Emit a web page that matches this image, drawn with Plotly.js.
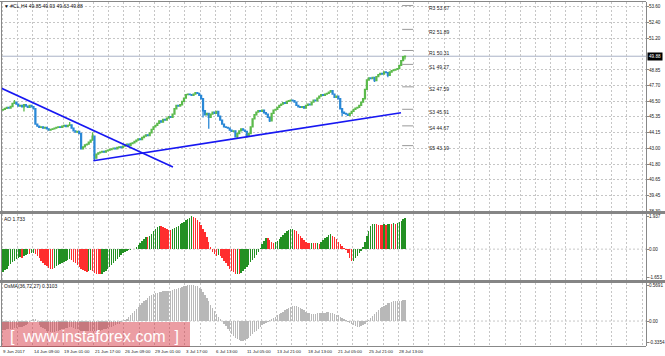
<!DOCTYPE html>
<html><head><meta charset="utf-8">
<script src="https://cdn.plot.ly/plotly-3.0.1.min.js"></script>
<style>html,body{margin:0;padding:0;background:#fff}#chart{width:665px;height:356px}</style>
</head><body><div id="chart"></div>
<script>
// ---- DATA ----
const closes = [
45.90,45.98,46.05,46.00,46.12, 46.35,46.45,46.30,
46.15,46.20,46.10,46.25,46.15,46.05,46.20,46.10,45.95,
44.80, 44.65,44.55,44.60,44.50,44.55,44.45, 44.35,44.40,
44.45,44.50,44.55,44.60,44.55,44.65,44.70,44.62,44.70,
44.75,44.50, 44.30,44.20,44.25,44.10, 42.95,
43.10,43.25,43.30,43.45,43.60, 43.90, 42.25,
42.55,42.65,42.70,42.75,42.70,42.80,42.85,42.90,
42.95,43.00,42.95,43.05,43.10,43.05,43.15,
43.25,43.30,43.20,43.35,43.40,43.50,
43.60,43.70,43.65,43.80,43.90, 44.00,43.95,44.15,44.40,44.60,
44.70,44.85,45.05,44.95,45.15,45.10, 45.25,45.35,45.30,45.55,
45.95,46.20,46.15,46.25, 46.50,46.75,47.00,
47.05,47.00,46.95,47.05,47.15,47.10, 46.95,46.70,
45.80,45.50,45.60, 45.30,45.55, 45.70,45.60,45.75,45.40,
45.10,44.80,44.60,44.55,44.50, 44.35,44.25,44.30, 43.85,44.10,44.30,
44.45,44.35,44.25, 43.95, 44.10,44.60,45.20, 45.50,45.70,45.80,45.75,
45.85,45.65,45.55, 45.30,45.05, 45.60,45.85,45.90, 46.05,46.20,46.30,46.40,
46.35,46.50,46.55,46.60,46.55, 46.45,46.20,46.10, 46.05,46.10,46.00,
46.20,46.30,46.25,46.45, 46.60,46.55,46.75,46.90, 47.00,46.95,47.05,47.10,
47.20,47.30, 47.05,46.80, 46.90,46.70, 45.95,45.70,45.60, 45.55,45.45,45.60,
45.75,45.90,46.00,46.05, 46.20,46.45,46.70, 47.40,48.10,48.25, 48.20,48.30,48.05,
48.35,48.50,48.60,48.55, 48.70,48.65,48.45, 48.70,48.80,48.85, 48.90,48.95,49.20,
49.55,49.85,49.88
];
const firstOpen = 45.85;
const wickHighBars = [6, 35, 47, 211];
const wickHighVals = [46.60, 44.95, 44.20, 49.93];
const wickLowBars = [11, 48, 105, 108, 123, 128, 140, 178, 195, 202, 211];
const wickLowVals = [45.75, 42.12, 45.30, 44.45, 43.75, 43.80, 44.95, 45.40, 47.95, 48.30, 49.63];

const aoValues = [
-1.33,-1.25,-1.15,-1.02,-0.90,-0.78,-0.68,-0.58,-0.50,-0.45,
-0.52,-0.40,-0.33,-0.26,-0.28,-0.24,-0.20,-0.27,-0.40,-0.55,
-0.68,-0.80,-0.92,-1.02,-1.10,-1.16,-1.18,-1.10,-1.02,-0.95,
-0.88,-0.80,-0.74,-0.68,-0.63,-0.60,-0.66,-0.75,-0.85,-0.95,
-1.05,-1.15,-1.25,-1.32,-1.37,-1.30,-1.25,-1.32,-1.40,-1.45,
-1.48,-1.50,-1.46,-1.38,-1.28,-1.18,-1.06,-0.94,-0.82,-0.70,
-0.58,-0.46,-0.35,-0.25,-0.18,-0.12,-0.08,-0.05,-0.02,0.03,
0.12,0.25,0.38,0.50,0.62,0.72,0.70,0.78,0.90,1.05,
1.20,1.32,1.40,1.36,1.30,1.25,1.20,1.16,1.14,1.18,
1.25,1.32,1.40,1.48,1.56,1.63,1.70,1.76,1.84,1.937,
1.92,1.86,1.75,1.60,1.42,1.22,1.02,0.75,0.45,0.15,
-0.15,-0.30,-0.38,-0.33,-0.42,-0.55,-0.70,-0.85,-1.00,-1.15,
-1.28,-1.38,-1.47,-1.45,-1.50,-1.42,-1.30,-1.18,-1.05,-0.92,
-0.78,-0.64,-0.50,-0.35,-0.18,0.05,0.30,0.50,0.68,0.66,
0.55,0.45,0.38,0.40,0.50,0.62,0.75,0.86,0.96,1.05,
1.12,1.18,1.20,1.15,1.05,0.92,0.78,0.65,0.52,0.42,
0.38,0.36,0.38,0.36,0.34,0.36,0.33,0.40,0.52,0.64,
0.75,0.84,0.88,0.80,0.70,0.58,0.45,0.32,0.20,0.08,
-0.05,-0.25,-0.50,-0.72,-0.68,-0.55,-0.40,-0.25,-0.10,0.15,
0.45,0.80,1.10,1.35,1.48,1.52,1.48,1.46,1.45,1.44,
1.47,1.45,1.50,1.52,1.50,1.53,1.52,1.55,1.60,1.68,
1.76,1.85
];

const osmaValues = [
-0.14,-0.14,-0.13,-0.13,-0.12,-0.12,-0.11,-0.11,-0.10,-0.10,-0.09,-0.08,-0.07,-0.05,-0.02,0.02,
0.04,0.03,-0.02,-0.06,-0.09,-0.11,-0.13,-0.15,-0.16,-0.17,-0.17,-0.17,-0.16,-0.15,-0.14,-0.13,
-0.12,-0.11,-0.11,-0.10,-0.10,-0.11,-0.12,-0.13,-0.14,-0.15,-0.16,-0.16,-0.16,-0.15,-0.15,-0.15,
-0.16,-0.16,-0.16,-0.15,-0.14,-0.13,-0.12,-0.11,-0.10,-0.09,-0.08,-0.07,-0.05,-0.04,-0.02,0.00,0.02,
0.04,0.07,0.10,0.13,0.16, 0.19,0.22,0.25,0.28,0.31, 0.34,0.37,0.39,0.41,0.43,
0.44,0.45,0.46,0.46,0.47, 0.47,0.47,0.48,0.48,0.49, 0.50,0.51,0.52,0.53,0.54,
0.55,0.56,0.565,0.569,0.569, 0.565,0.56,0.55,0.53,0.50, 0.46,0.41,0.36,0.31,0.26,
0.21,0.16,0.11,0.07,0.03, 0.00,-0.04,-0.08,-0.12,-0.16, -0.20,-0.24,-0.27,-0.29,-0.30,
-0.31,-0.31,-0.30,-0.29,-0.27, -0.24,-0.21,-0.18,-0.15,-0.12, -0.09,-0.07,-0.05,-0.03,-0.01,
0.01,0.03,0.05,0.07,0.09, 0.11,0.13,0.15,0.17,0.19, 0.21,0.22,0.23,0.24,0.23,
0.22,0.21,0.19,0.17,0.15, 0.13,0.12,0.11,0.11,0.11, 0.12,0.12,0.13,0.13,0.13,
0.14,0.14,0.13,0.12,0.11, 0.10,0.09,0.07,0.05,0.03, 0.01,-0.01,-0.03,-0.05,-0.07,
-0.08,-0.09,-0.09,-0.08,-0.06, -0.04,-0.01,0.02,0.05,0.08, 0.11,0.14,0.17,0.20,0.22,
0.24,0.26,0.28,0.29,0.30, 0.31,0.31,0.32,0.32,0.32, 0.33,0.33
];

const priceTicks = [53.60,52.40,51.20,48.85,47.70,46.50,45.35,44.15,43.00,41.80,40.65,39.45,38.30];
const aoTicks = [-1.653, 0, 1.937];
const aoTickText = ['-1.653', '0.00', '1.937'];
const osmaTicks = [-0.3354, 0, 0.5691];
const osmaTickText = ['-0.3354', '0.00', '0.5691'];
const timeLabels = ['9 Jun 2017','14 Jun 09:00','19 Jun 01:00','21 Jun 17:00','26 Jun 09:00','29 Jun 01:00',
  '3 Jul 17:00','6 Jul 13:00','11 Jul 05:00','13 Jul 21:00','18 Jul 13:00','21 Jul 05:00','25 Jul 21:00','28 Jul 13:00'];
const barsPerLabel = 16, barsPerGrid = 8;
const pivotNames = ['R3','R2','R1','S1','S2','S3','S4','S5'];
const pivotLevels = [53.67, 51.89, 50.31, 49.27, 47.59, 45.91, 44.67, 43.19];
const pivotSpan = [209.5, 215.3];
const pivotLabelBar = 222.5;
const trendDownX = [-1.05, 89.2], trendDownY = [47.50, 41.59];
const trendUpX = [47.4, 208.9], trendUpY = [42.06, 45.65];
const headerText = '\u25BC #CL,H4 49.85 49.93 49.63 49.88';
const aoText = 'AO 1.733';
const osmaText = 'OsMA(36,72,27) 0.3103';

// ---- BUILD ----
const n = closes.length;
const bars = closes.map((_, i) => i);
const opens = closes.map((c, i) => i === 0 ? firstOpen : closes[i - 1]);
const highs = closes.map((c, i) => Math.max(opens[i], c));
const lows = closes.map((c, i) => Math.min(opens[i], c));
wickHighBars.forEach((b, j) => { highs[b] = Math.max(highs[b], wickHighVals[j]); });
wickLowBars.forEach((b, j) => { lows[b] = Math.min(lows[b], wickLowVals[j]); });
const lastPrice = closes[n - 1];

const GREEN = '#5cba4c', BLUE = '#2a88d6';
const aoColors = aoValues.map((v, i) => (i === 0 || v > aoValues[i - 1]) ? '#239023' : '#ff2e2e');

const FONT = 'Liberation Sans, Arial, sans-serif';
const px = x => (x - 1) / 645;
const py = y => (346 - y) / 344;

const xRange = [-1.05, 337.5];
const gridVals = [];
for (let k = 0; k <= 42; k++) gridVals.push(k * barsPerGrid - 0.5);

const traces = [];
traces.push({
  type: 'candlestick', x: bars, open: opens, high: highs, low: lows, close: closes,
  xaxis: 'x', yaxis: 'y', whiskerwidth: 0,
  increasing: { line: { color: GREEN, width: 1.3 }, fillcolor: GREEN },
  decreasing: { line: { color: BLUE, width: 1.3 }, fillcolor: BLUE },
  hoverinfo: 'skip', showlegend: false
});
traces.push({ type: 'scatter', mode: 'lines', x: trendDownX, y: trendDownY, xaxis: 'x', yaxis: 'y',
  line: { color: '#1717f2', width: 1.6 }, hoverinfo: 'skip', showlegend: false });
traces.push({ type: 'scatter', mode: 'lines', x: trendUpX, y: trendUpY, xaxis: 'x', yaxis: 'y',
  line: { color: '#1717f2', width: 1.6 }, hoverinfo: 'skip', showlegend: false });
pivotLevels.forEach(lv => {
  traces.push({ type: 'scatter', mode: 'lines', x: pivotSpan, y: [lv, lv], xaxis: 'x', yaxis: 'y',
    line: { color: '#999999', width: 1 }, hoverinfo: 'skip', showlegend: false });
});
traces.push({ type: 'bar', x: bars, y: aoValues, xaxis: 'x2', yaxis: 'y2', width: 0.72,
  marker: { color: aoColors, line: { width: 0 } }, hoverinfo: 'skip', showlegend: false });
traces.push({ type: 'bar', x: bars, y: osmaValues, xaxis: 'x3', yaxis: 'y3', width: 0.72,
  marker: { color: '#b8b8b8', line: { width: 0 } }, hoverinfo: 'skip', showlegend: false });

const GRID = '#c6c6c6';
const xBase = a => ({
  range: xRange, anchor: a, showticklabels: false, tickvals: gridVals, ticks: '',
  showgrid: true, gridcolor: GRID, griddash: '2px,2px', gridwidth: 1,
  zeroline: false, showline: false, fixedrange: true, rangeslider: { visible: false }
});
const yBase = (dom, rng, a) => ({
  domain: dom, range: rng, anchor: a, side: 'right',
  tickfont: { size: 4.6, color: '#222', family: FONT },
  ticks: 'outside', ticklen: 2, tickcolor: '#888', tickwidth: 1, ticklabelstandoff: -1,
  zeroline: false, showline: true, linecolor: '#888', linewidth: 1, fixedrange: true
});

const layout = {
  width: 665, height: 356,
  margin: { l: 1, r: 19, t: 2, b: 10, pad: 0 },
  paper_bgcolor: '#ffffff', plot_bgcolor: '#ffffff',
  showlegend: false, hovermode: false, bargap: 0,
  font: { family: FONT, size: 5, color: '#222' },
  xaxis: xBase('y'), xaxis2: xBase('y2'), xaxis3: xBase('y3'),
  yaxis: Object.assign(yBase([py(211), 1], [38.3, 53.937], 'x'), {
    tickvals: priceTicks, ticktext: priceTicks.map(v => v.toFixed(2)),
    showgrid: true, gridcolor: GRID, griddash: '2px,2px' }),
  yaxis2: Object.assign(yBase([py(280), py(214)], [-1.831, 2.085], 'x2'), {
    tickvals: aoTicks, ticktext: aoTickText, showgrid: false }),
  yaxis3: Object.assign(yBase([0, py(283)], [-0.394, 0.601], 'x3'), {
    tickvals: osmaTicks, ticktext: osmaTickText, showgrid: false }),
  shapes: [
    { type: 'line', xref: 'paper', x0: 0, x1: 1, yref: 'y2', y0: 0, y1: 0, layer: 'below',
      line: { color: GRID, width: 1, dash: '2px,2px' } },
    { type: 'line', xref: 'paper', x0: 0, x1: 1, yref: 'y3', y0: 0, y1: 0, layer: 'below',
      line: { color: GRID, width: 1, dash: '2px,2px' } },
    { type: 'line', xref: 'paper', x0: 0, x1: 1, yref: 'y', y0: lastPrice, y1: lastPrice, layer: 'below',
      line: { color: '#aab2c6', width: 1 } },
    { type: 'line', xref: 'paper', yref: 'paper', x0: px(0), x1: 1, y0: py(1.5), y1: py(1.5), line: { color: '#888', width: 1 } },
    { type: 'line', xref: 'paper', yref: 'paper', x0: px(1.5), x1: px(1.5), y0: 0, y1: py(1.5), line: { color: '#888', width: 1 } },
    { type: 'line', xref: 'paper', yref: 'paper', x0: px(0), x1: px(665), y0: py(212.5), y1: py(212.5), line: { color: '#858585', width: 3 } },
    { type: 'line', xref: 'paper', yref: 'paper', x0: px(0), x1: px(665), y0: py(281.5), y1: py(281.5), line: { color: '#858585', width: 3 } },
    { type: 'line', xref: 'paper', yref: 'paper', x0: px(0), x1: 1, y0: py(346.5), y1: py(346.5), line: { color: '#888', width: 1 } },
    { type: 'rect', xref: 'paper', yref: 'paper', x0: px(2), x1: px(190), y0: py(347), y1: py(322),
      fillcolor: 'rgba(214,50,62,0.48)', line: { width: 0 }, layer: 'above' }
  ],
  annotations: []
};

const A = layout.annotations;
A.push({ xref: 'paper', yref: 'paper', x: px(2), y: py(5.5), xanchor: 'left', yanchor: 'middle',
  text: headerText, showarrow: false, font: { size: 5, color: '#111', family: FONT } });
A.push({ xref: 'paper', yref: 'paper', x: px(2), y: py(219), xanchor: 'left', yanchor: 'middle',
  text: aoText, showarrow: false, font: { size: 5, color: '#111', family: FONT } });
A.push({ xref: 'paper', yref: 'paper', x: px(2), y: py(286), xanchor: 'left', yanchor: 'middle',
  text: osmaText, showarrow: false, font: { size: 5, color: '#111', family: FONT } });
pivotLevels.forEach((lv, j) => {
  A.push({ xref: 'x', yref: 'y', x: pivotLabelBar, y: lv, xanchor: 'left', yanchor: 'middle', yshift: -2.5,
    text: pivotNames[j] + ' ' + lv.toFixed(2), showarrow: false, font: { size: 5, color: '#222', family: FONT } });
});
timeLabels.forEach((t, k) => {
  A.push({ xref: 'x3', yref: 'paper', x: k * barsPerLabel - 0.5, y: py(351), xanchor: 'left', yanchor: 'middle',
    xshift: -1, text: t, showarrow: false, font: { size: 4.4, color: '#222', family: FONT } });
});
A.push({ xref: 'paper', yref: 'y', x: 1, y: lastPrice, xanchor: 'left', yanchor: 'middle', xshift: 1,
  text: lastPrice.toFixed(2), showarrow: false, bgcolor: '#000', borderpad: 1,
  font: { size: 4.6, color: '#fff', family: FONT } });
A.push({ xref: 'paper', yref: 'paper', x: px(94), y: py(336), xanchor: 'center', yanchor: 'middle',
  text: '[\u00a0\u00a0www.instaforex.com\u00a0\u00a0]', showarrow: false,
  font: { size: 16, color: '#ffffff', family: FONT } });

Plotly.newPlot('chart', traces, layout, { staticPlot: true, displayModeBar: false });
</script>
</body></html>
